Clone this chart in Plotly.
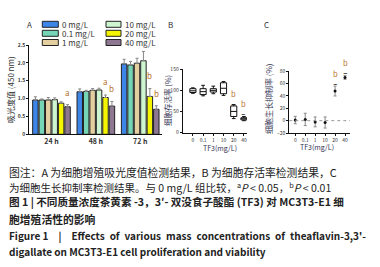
import plotly.graph_objects as go

# ---------------- data ----------------
times = ["24 h", "48 h", "72 h"]
doses = ["0 mg/L", "0.1 mg/L", "1 mg/L", "10 mg/L", "20 mg/L", "40 mg/L"]
od_0 = [0.96, 1.19, 1.97]
od_01 = [0.96, 1.20, 1.94]
od_1 = [0.96, 1.23, 1.99]
od_10 = [0.97, 1.24, 2.06]
od_20 = [0.87, 1.03, 1.06]
od_40 = [0.77, 0.79, 0.70]
err_0 = [0.09, 0.08, 0.13]
err_01 = [0.03, 0.03, 0.10]
err_1 = [0.07, 0.05, 0.14]
err_10 = [0.05, 0.05, 0.26]
err_20 = [0.04, 0.07, 0.22]
err_40 = [0.06, 0.13, 0.10]
sig_A = [("24 h", 5, "a", 0.95), ("48 h", 4, "a", 1.27), ("48 h", 5, "b", 1.06),
         ("72 h", 4, "b", 1.43), ("72 h", 5, "b", 0.92)]

tf3 = ["0", "0.1", "1", "10", "20", "40"]
via_lf = [93, 87, 92, 88, 33, 28]
via_q1 = [95, 90, 96, 92, 38, 30]
via_med = [99, 97, 100, 105, 50, 33]
via_q3 = [104, 104, 104, 118, 63, 35]
via_uf = [106, 112, 110, 121, 66, 38]
sig_B = [("20", 80), ("40", 56)]

inh = [1, 2, -2, -3, 48, 70]
inh_err = [6, 10, 8, 9, 8, 3]
sig_C = [("20", 69), ("40", 86)]

# ---------------- styles ----------------
W, H = 380, 267
colors = ["#3d85e6", "#74d6b6", "#e3cfa0", "#cdf5cf", "#f5f500", "#8e7791"]
vals = [od_0, od_01, od_1, od_10, od_20, od_40]
errs = [err_0, err_01, err_1, err_10, err_20, err_40]
sig_color = "#b8732e"
txt = "#333333"
ttl = "#333355"
FONT = "Noto Sans CJK SC, Noto Sans, sans-serif"
B_RANGE = [0, 150]
C_RANGE = [-20, 80]

def px(x):
    return x / W

def py(y):
    return 1 - y / H

def frac(v, rng):
    return (v - rng[0]) / (rng[1] - rng[0])

fig = go.Figure()

bargap, bargroupgap = 0.13, 0.15
for name, c, v, e in zip(doses, colors, vals, errs):
    fig.add_trace(go.Bar(
        x=times, y=v, name=name, marker=dict(color=c, line=dict(color="#222222", width=1)),
        error_y=dict(type="data", array=e, arrayminus=[0] * len(e), symmetric=False,
                     color="#888888", thickness=1, width=1.5),
        xaxis="x", yaxis="y", showlegend=False))

# significance letters panel A
slot = (1 - bargap) / len(doses)
for t, idx, letter, yv in sig_A:
    xc = times.index(t) - (1 - bargap) / 2 + slot * (idx + 0.5)
    fig.add_annotation(x=xc, y=yv, xref="x", yref="y", text=letter, showarrow=False,
                       font=dict(size=8, color=sig_color, family=FONT), yanchor="bottom")

# panel B box plot
fig.add_trace(go.Box(
    x=tf3, q1=via_q1, median=via_med, q3=via_q3, lowerfence=via_lf, upperfence=via_uf,
    xaxis="x2", yaxis="y2", fillcolor="white", line=dict(color="#111111", width=1),
    width=0.6, whiskerwidth=0.6, showlegend=False, boxpoints=False))

# panel C
fig.add_trace(go.Scatter(
    x=tf3, y=inh, mode="markers", marker=dict(color="#111111", size=3),
    error_y=dict(type="data", array=inh_err, color="#888888", thickness=1, width=1.5),
    xaxis="x3", yaxis="y3", showlegend=False, cliponaxis=False))
fig.add_shape(type="line", xref="x3 domain", yref="y3", x0=0, x1=1, y0=0, y1=0,
              line=dict(color="#999999", width=1, dash="dot"))

# significance marks B / C : letter with a short bar under it
sig_text = "<span style='color:%s'>b</span><br><b>–</b>" % sig_color
for xa, ya, marks, rng in [("x2", "y2 domain", sig_B, B_RANGE), ("x3", "y3 domain", sig_C, C_RANGE)]:
    for xcat, yv in marks:
        fig.add_annotation(x=tf3.index(xcat), y=frac(yv, rng), xref=xa, yref=ya, text=sig_text,
                           showarrow=False, yanchor="middle",
                           font=dict(size=7.5, color="#111111", family=FONT))

# manual legend for panel A
leg_cols = [(42.3, 58.3, 59.5), (106, 121, 122.5)]
leg_rows = [24.3, 33.3, 42.5]
for i, (name, c) in enumerate(zip(doses, colors)):
    col, row = divmod(i, 3)
    x0, x1, xt = leg_cols[col]
    yc = leg_rows[row]
    fig.add_shape(type="rect", xref="paper", yref="paper", x0=px(x0), x1=px(x1),
                  y0=py(yc + 3), y1=py(yc - 3), fillcolor=c, line=dict(color="#222222", width=1))
    fig.add_annotation(x=px(xt), y=py(yc), xref="paper", yref="paper", text=name,
                       showarrow=False, xanchor="left", yanchor="middle",
                       font=dict(size=8, color=txt, family=FONT))

# panel labels
for lab, xx in [("A", 25), ("B", 170), ("C", 271)]:
    fig.add_annotation(x=px(xx), y=py(24), xref="paper", yref="paper", text=lab, showarrow=False,
                       yanchor="middle", font=dict(size=8, color=txt, family=FONT))

# axis titles (placed as paper annotations)
axis_titles = [
    ("吸光度值 (450 nm)", 11, 90, -90, 8, txt),
    ("细胞存活率 (%)", 167, 101, -90, 7.5, ttl),
    ("细胞生长抑制率 (%)", 268, 99, -90, 8, ttl),
    ("TF3(mg/L)", 220, 148, 0, 7, ttl),
    ("TF3(mg/L)", 317, 147, 0, 7, ttl),
]
for t, xx, yy, ang, fs, col in axis_titles:
    fig.add_annotation(x=px(xx), y=py(yy), xref="paper", yref="paper", text=t, showarrow=False,
                       textangle=ang, xanchor="center", yanchor="middle",
                       font=dict(size=fs, color=col, family=FONT))

# captions
E = "\u2002"
cap = [
    (172, "图注：A 为细胞增殖吸光度值检测结果，B 为细胞存活率检测结果，C", 10.8, "normal"),
    (186.5, "为细胞生长抑制率检测结果。与 0 mg/L 组比较，<sup>a</sup><i>P</i> < 0.05，<sup>b</sup><i>P</i> < 0.01", 10.5, "normal"),
    (201.5, "图 1 | 不同质量浓度茶黄素 -3，3′- 双没食子酸酯 (TF3) 对 MC3T3-E1 细", 10.6, "bold"),
    (219, "胞增殖活性的影响", 10.8, "bold"),
    (235.5, ("Figure 1" + "\u2003|\u2003" + E.join("Effects of various mass concentrations of theaflavin-3,3'-".split(" "))), 10, "bold"),
    (251, "digallate on MC3T3-E1 cell proliferation and viability", 10, "bold"),
]
for yy, t, fs, wt in cap:
    fig.add_annotation(x=px(7), y=py(yy), xref="paper", yref="paper", text=t, showarrow=False,
                       xanchor="left", yanchor="middle",
                       font=dict(size=fs, color="#222222", family=FONT, weight=wt))

axis_common = dict(showline=True, linecolor="#111111", linewidth=1, ticks="outside",
                   tickcolor="#111111", ticklen=2, tickwidth=1, showgrid=False, zeroline=False,
                   automargin=False)

fig.update_layout(
    width=W, height=H, margin=dict(l=0, r=0, t=0, b=0, pad=0, autoexpand=False),
    paper_bgcolor="white", plot_bgcolor="white", showlegend=False,
    barmode="group", bargap=bargap, bargroupgap=bargroupgap,
    font=dict(family=FONT, color=txt),
    xaxis=dict(domain=[px(29.3), px(162.4)], range=[-0.5, 2.5], type="category",
               anchor="y", **{**axis_common, "ticks": ""},
               tickfont=dict(size=7, color=txt, weight="bold")),
    yaxis=dict(domain=[py(134.3), py(45)], range=[0, 2.5], anchor="x",
               tickvals=[0, 0.5, 1.0, 1.5, 2.0, 2.5], ticktext=["0", "0.5", "1.0", "1.5", "2.0", "2.5"],
               tickfont=dict(size=5, color=txt, weight="bold"), **axis_common),
    xaxis2=dict(domain=[px(182.7), px(247)], range=[-1, 5.3], type="category", anchor="y2",
                tickfont=dict(size=5, color=txt), **axis_common),
    yaxis2=dict(domain=[py(132.5), py(69.3)], range=B_RANGE, anchor="x2",
                tickvals=[0, 50, 100, 150], tickfont=dict(size=5, color=txt), **axis_common),
    xaxis3=dict(domain=[px(289.3), px(350)], range=[-0.6, 5.5], type="category", anchor="y3",
                tickfont=dict(size=5, color=txt), **axis_common),
    yaxis3=dict(domain=[py(133), py(71.3)], range=C_RANGE, anchor="x3",
                tickvals=[-20, 0, 20, 40, 60, 80], tickfont=dict(size=5, color=txt), **axis_common),
)

fig.write_html("out.html", config={"displayModeBar": False},
               post_script="document.body.style.margin='0';document.body.style.padding='0';")
